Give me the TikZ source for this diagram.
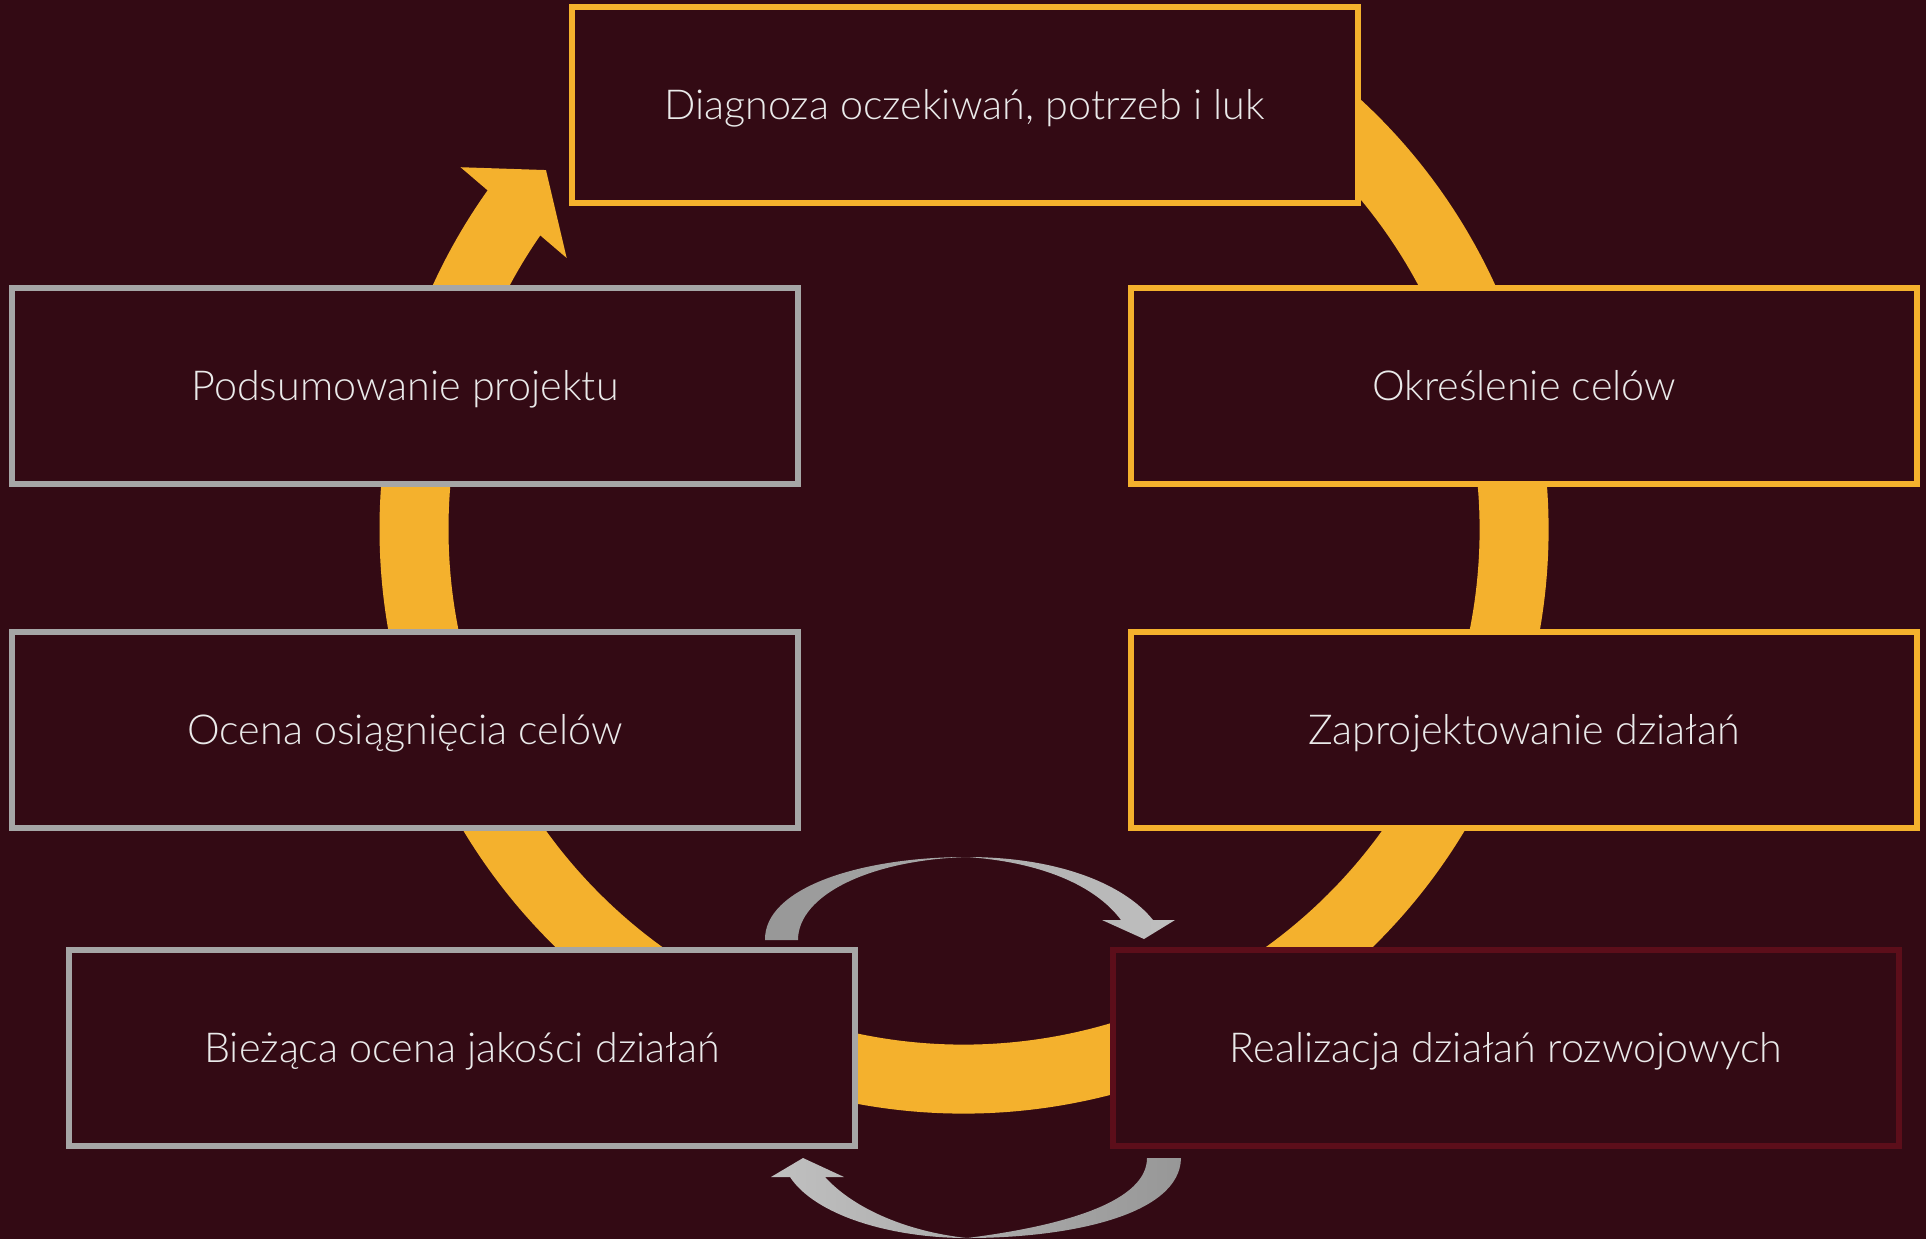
\documentclass[tikz,border=0pt]{standalone}
\usepackage{fontspec}
\setmainfont{Lato Light}
\definecolor{bgmaroon}{HTML}{330A14}
\definecolor{ringorange}{HTML}{F4B12D}
\definecolor{boxgray}{HTML}{A6A6A6}
\definecolor{darkred}{HTML}{5C0E1A}
\definecolor{textgray}{HTML}{EAEAEA}
\definecolor{arrowlight}{HTML}{C0C0C0}
\definecolor{arrowdark}{HTML}{979797}
\tikzset{stage/.style={draw=ringorange, fill=bgmaroon, line width=6pt, minimum width=786pt, minimum height=196pt, text=textgray, font=\fontsize{41.3}{49}\selectfont, text height=29.6pt, text depth=0pt}}
\begin{document}
\begin{tikzpicture}[x=1pt,y=-1pt]
\fill[bgmaroon] (0,0) rectangle (1926,1239);
\useasboundingbox (0,0) rectangle (1926,1239);
%Cycle ring
\draw[ringorange, line width=69pt, shift={(964,529)}] (-60:550) arc (-60:216:550);
\fill[ringorange, shift={(964,529)}] (215.7:620) -- (220.65:551) -- (214.3:481) -- cycle;
%Stages
\node[stage] (diagnoza) at (964.5,105) {Diagnoza oczekiwań, potrzeb i luk};
\node[stage] (okreslenie) at (1524,386) {Określenie celów};
\node[stage] (zaprojektowanie) at (1524,730) {Zaprojektowanie działań};
\node[stage, draw=darkred] (realizacja) at (1506,1048) {Realizacja działań rozwojowych};
\node[stage, draw=boxgray] (biezaca) at (462,1048) {Bieżąca ocena jakości działań};
\node[stage, draw=boxgray] (ocena) at (405,730) {Ocena osiągnięcia celów};
\node[stage, draw=boxgray] (podsumowanie) at (405,386) {Podsumowanie projektu};
%Small loop arrows
\shade[left color=arrowdark, right color=arrowlight] (765,940) .. controls (764,888) and (860,857) .. (967,857) .. controls (1060,857) and (1125,885) .. (1153,920) -- (1175,920) -- (1144,939) -- (1102,920) -- (1121,920) .. controls (1095,885) and (1040,862) .. (967,857) .. controls (870,860) and (798,895) .. (798,940) -- cycle;
\shade[left color=arrowlight, right color=arrowdark] (1181,1158) .. controls (1180,1215) and (1070,1238) .. (967,1238) .. controls (890,1238) and (815,1215) .. (790,1177) -- (771,1177) -- (803,1158) -- (844,1177) -- (825,1177) .. controls (855,1210) and (910,1232) .. (967,1238) .. controls (1070,1225) and (1147,1200) .. (1147,1158) -- cycle;
\end{tikzpicture}
\end{document}
